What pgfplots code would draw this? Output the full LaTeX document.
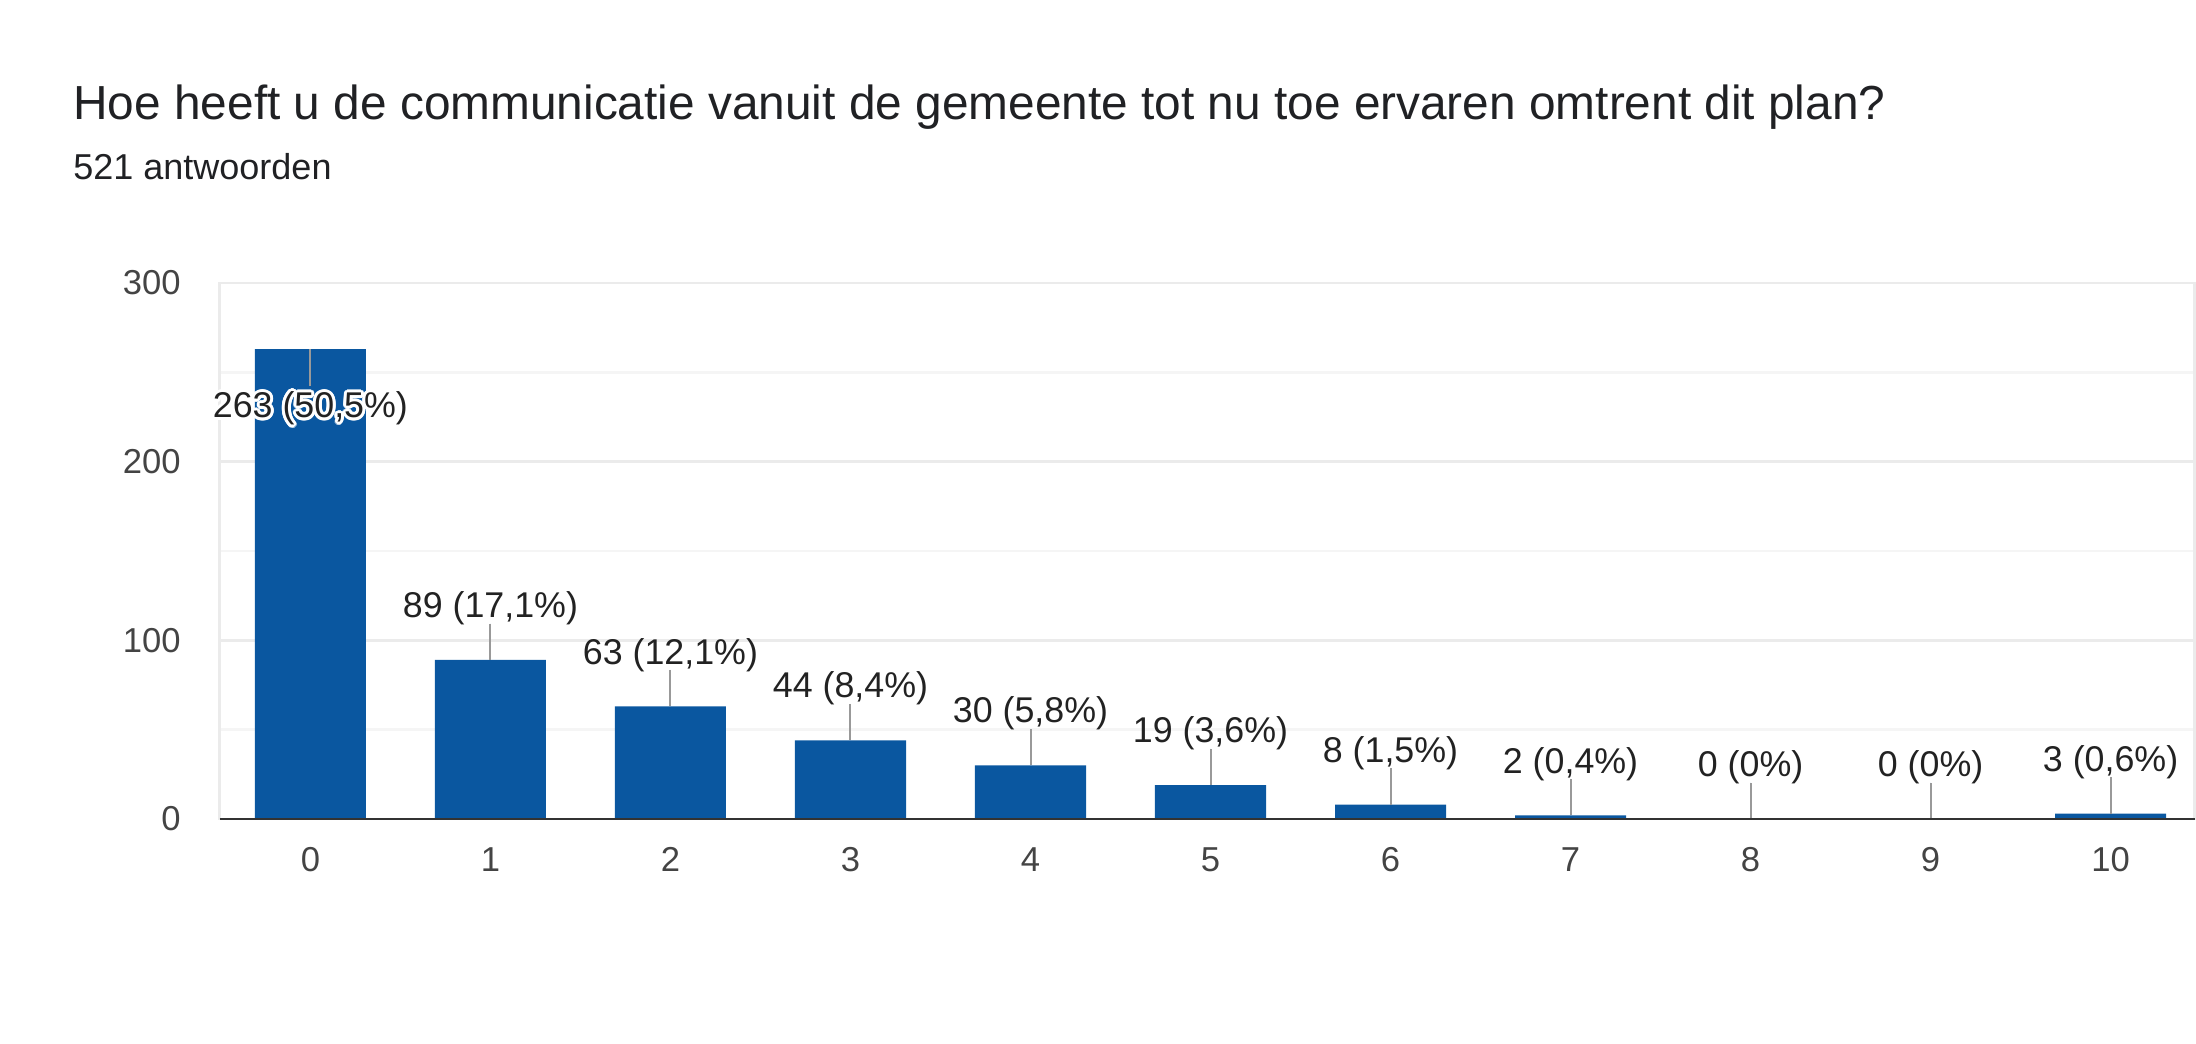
\documentclass[border=0pt]{standalone}
\usepackage{fontspec}
\setmainfont{Liberation Sans}
\usepackage{pgfplots}
\pgfplotsset{compat=1.18}
\usepackage{contour}
\contourlength{1.5pt}
\definecolor{barblue}{HTML}{0A57A0}
\definecolor{gridgray}{HTML}{EBEBEB}
\definecolor{minorgray}{HTML}{F5F5F5}
\definecolor{axisdark}{HTML}{333333}
\definecolor{leadgray}{HTML}{999999}
\definecolor{titlecol}{HTML}{202124}
\definecolor{tickcol}{HTML}{444444}
\definecolor{labcol}{HTML}{222222}
\begin{document}
\begin{tikzpicture}
\useasboundingbox (0,0) rectangle (1098pt,522pt);
\node[anchor=base west, inner sep=0pt, text=titlecol, font=\fontsize{23.9}{28}\selectfont] at (36.5pt,462.3pt) {Hoe heeft u de communicatie vanuit de gemeente tot nu toe ervaren omtrent dit plan?};
\node[anchor=base west, inner sep=0pt, text=titlecol, font=\fontsize{18}{22}\selectfont] at (36.5pt,432pt) {521 antwoorden};
\begin{axis}[
  at={(109.75pt,112.5pt)}, anchor=south west,
  scale only axis, width=987.5pt, height=268pt,
  xmin=-0.505, xmax=10.466, ymin=0, ymax=300,
  xtick={0,1,2,3,4,5,6,7,8,9,10},
  ytick={0,100,200,300}, minor ytick={50,150,250},
  ymajorgrids, yminorgrids,
  major grid style={draw=gridgray, line width=1.3pt},
  minor grid style={draw=minorgray, line width=1.3pt},
  axis line style={draw=gridgray, line width=1.3pt},
  major tick length=0pt, minor tick length=0pt,
  /pgf/number format/assume math mode=true,
  tick label style={font=\fontsize{17.3}{20}\selectfont, text=tickcol, inner sep=0pt},
  xticklabel style={anchor=base, yshift=-26.5pt},
  yticklabel style={anchor=east, xshift=-19.2pt},
  clip=false,
]
\addplot[ybar, bar width=0.617, fill=barblue, draw=none,
  error bars/.cd, y dir=both, y explicit, error mark=none,
  error bar style={draw=leadgray, line width=1pt}]
  coordinates {
  (0,263) += (0,0) -= (0,20.4)
  (1,89) += (0,20.4) -= (0,0)
  (2,63) += (0,20.4) -= (0,0)
  (3,44) += (0,20.4) -= (0,0)
  (4,30) += (0,20.4) -= (0,0)
  (5,19) += (0,20.4) -= (0,0)
  (6,8) += (0,20.4) -= (0,0)
  (7,2) += (0,20.4) -= (0,0)
  (8,0) += (0,20.4) -= (0,0)
  (9,0) += (0,20.4) -= (0,0)
  (10,3) += (0,20.4) -= (0,0)
  };
\addplot[draw=none, mark=none, nodes near coords, point meta=explicit symbolic,
  every node near coord/.append style={anchor=south, inner sep=0pt, yshift=17.3pt,
    text=labcol, font=\fontsize{17.9}{21}\selectfont}]
  coordinates {
  (1,89) [89 (17,1\%)]
  (2,63) [63 (12,1\%)]
  (3,44) [44 (8,4\%)]
  (4,30) [30 (5,8\%)]
  (5,19) [19 (3,6\%)]
  (6,8) [8 (1,5\%)]
  (7,2) [2 (0,4\%)]
  (8,0) [0 (0\%)]
  (9,0) [0 (0\%)]
  (10,3) [3 (0,6\%)]
  };
\addplot[draw=none, mark=none, nodes near coords={\contour{white}{263 (50,5\%)}},
  every node near coord/.append style={anchor=north, inner sep=0pt, yshift=-21.2pt,
    text=labcol, font=\fontsize{17.9}{21}\selectfont}]
  coordinates {(0,263)};
\draw[axisdark, line width=1.4pt] (rel axis cs:0,0) -- (rel axis cs:1,0);
\end{axis}
\end{tikzpicture}
\end{document}
